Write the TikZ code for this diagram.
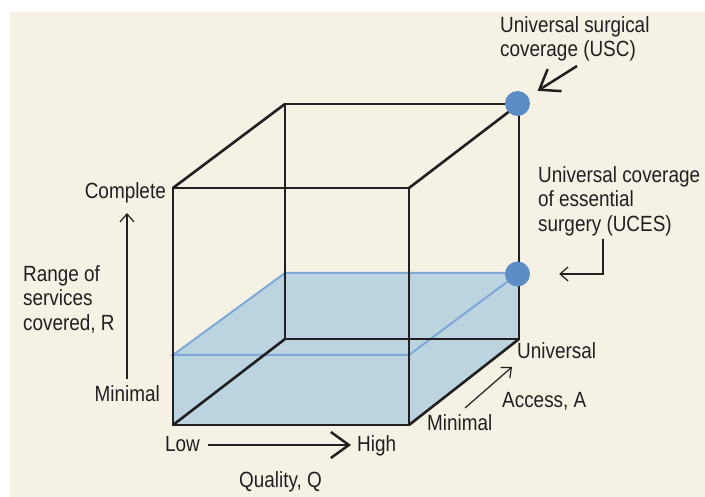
\documentclass[tikz,border=0pt]{standalone}
\usepackage{fontspec}
\setmainfont{Liberation Sans}[FakeStretch=0.86]
\usetikzlibrary{arrows.meta}
\definecolor{cream}{RGB}{245,241,228}
\definecolor{boxblue}{RGB}{187,212,224}
\definecolor{lineblue}{RGB}{126,169,214}
\definecolor{dotblue}{RGB}{91,140,196}
\definecolor{ink}{RGB}{35,31,32}
\tikzset{
  lbl/.style={inner sep=0pt, text=ink, font=\fontsize{22}{24.5}\selectfont},
  mlbl/.style={lbl, align=left, anchor=north west},
  edge/.style={draw=ink, line width=2.6pt, line join=miter},
  bluel/.style={draw=lineblue, line width=2pt},
  dot/.style={circle, fill=dotblue, minimum size=25pt, inner sep=0pt},
  thick arrow/.style={draw=ink, line width=2.5pt, -{Straight Barb[length=18pt,width=26pt]}},
  thin arrow/.style={draw=ink, line width=1.2pt, -{Straight Barb[length=8pt,width=14pt]}},
}
\begin{document}
\begin{tikzpicture}[x=1pt,y=-1pt]
\useasboundingbox (0,0) rectangle (705,497);
\fill[white] (0,0) rectangle (705,497);
\fill[cream] (10,12) rectangle (705,497);
% cube corners
\coordinate (flt) at (173,188);
\coordinate (frt) at (409,188);
\coordinate (flb) at (173,425);
\coordinate (frb) at (409,425);
\coordinate (blt) at (285,104);
\coordinate (brt) at (519,104);
\coordinate (blb) at (285,339);
\coordinate (brb) at (519,339);
% blue level
\coordinate (pfl) at (173,355);
\coordinate (pfr) at (409,355);
\coordinate (pbl) at (285,273);
\coordinate (pbr) at (519,273);
\fill[boxblue] (flb) -- (pfl) -- (pbl) -- (pbr) -- (brb) -- (frb) -- cycle;
\draw[bluel] (pfl) -- (pfr) -- (pbr) -- (pbl) -- cycle;
% cube wireframe
\draw[edge] (flt) rectangle (frb);
\draw[edge] (blt) rectangle (brb);
\draw[edge] (flt) -- (blt);
\draw[edge] (frt) -- (brt);
\draw[edge] (flb) -- (blb);
\draw[edge] (frb) -- (brb);
% dots
\node[dot] (usc) at (517.5,103.5) {};
\node[dot] (uces) at (517.5,274) {};
% labels
\node[mlbl] (usclbl) at (500,16) {Universal surgical\\coverage (USC)};
\node[mlbl] (uceslbl) at (538,166) {Universal coverage\\of essential\\surgery (UCES)};
\node[mlbl] (range) at (23,265) {Range of\\services\\covered, R};
\node[lbl, anchor=base east] (complete) at (166,199) {Complete};
\node[lbl, anchor=base east] (minR) at (160,402) {Minimal};
\node[lbl, anchor=base west] (low) at (165,451) {Low};
\node[lbl, anchor=base west] (high) at (357,451) {High};
\node[lbl, anchor=base west] (quality) at (239,487) {Quality, Q};
\node[lbl, anchor=base west] (minA) at (427,430) {Minimal};
\node[lbl, anchor=base west] (univ) at (517,359) {Universal};
\node[lbl, anchor=base west] (access) at (502,407) {Access, A};
% arrows
\coordinate (uscA) at (577,66);
\draw[thick arrow, shorten >=11pt] (uscA) -- (usc);
\coordinate (ucesA) at (603,239);
\draw[thin arrow, shorten >=29pt] (ucesA) |- (uces);
\coordinate (rA) at (127,379);
\coordinate (rB) at (127,213);
\draw[thin arrow] (rA) -- (rB);
\coordinate (qA) at (208,445);
\coordinate (qB) at (351,445);
\draw[thick arrow] (qA) -- (qB);
\coordinate (aA) at (465,408);
\coordinate (aB) at (512,367);
\draw[thin arrow] (aA) -- (aB);
\end{tikzpicture}
\end{document}
